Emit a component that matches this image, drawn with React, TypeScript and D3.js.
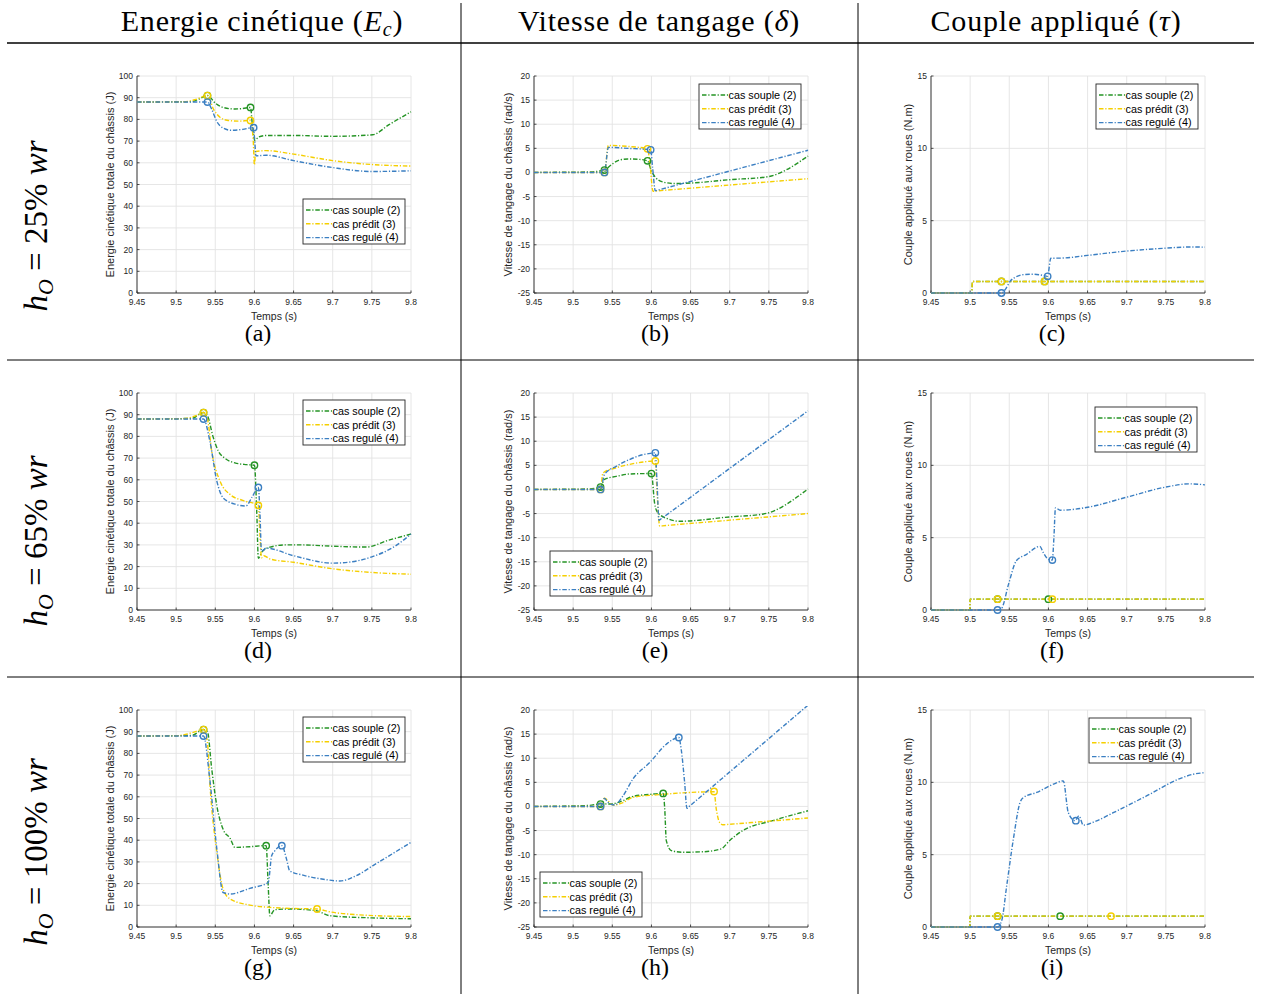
import React from 'react';
import * as d3 from 'd3';

type P = [number, number];

// ---------- data ----------
const X_TICKS = [9.45, 9.5, 9.55, 9.6, 9.65, 9.7, 9.75, 9.8];
const EC_TICKS = [0, 10, 20, 30, 40, 50, 60, 70, 80, 90, 100];
const DELTA_TICKS = [-25, -20, -15, -10, -5, 0, 5, 10, 15, 20];
const TAU_TICKS = [0, 5, 10, 15];

const SERIES_NAMES = ['cas souple (2)', 'cas prédit (3)', 'cas regulé (4)'];
const SERIES_COLORS = ['#259425', '#f5cf00', '#3b7fc2'];

const ROW_PERCENTS = ['25%', '65%', '100%'];
const CAPTIONS = ['(a)', '(b)', '(c)', '(d)', '(e)', '(f)', '(g)', '(h)', '(i)'];

const Y_LABELS = [
  'Energie cinétique totale du châssis (J)',
  'Vitesse de tangage du châssis (rad/s)',
  'Couple appliqué aux roues (N.m)',
];

// (a) Ec, hO = 25%
const ecA_souple: P[] = [[9.45, 88], [9.52, 88.2], [9.53, 89.5], [9.54, 91], [9.55, 87.5], [9.56, 85.5], [9.575, 84.8], [9.585, 85], [9.595, 85.5], [9.5975, 77], [9.6005, 70.3], [9.605, 71.8], [9.615, 72.6], [9.65, 72.6], [9.7, 72.2], [9.751, 72.9], [9.772, 77.6], [9.8, 83.5]];
const ecA_predit: P[] = [[9.45, 88], [9.51, 88.1], [9.525, 89.2], [9.54, 91], [9.548, 84.5], [9.556, 81], [9.565, 79.6], [9.58, 79.2], [9.595, 79.5], [9.5985, 70], [9.6, 59], [9.6015, 65.2], [9.615, 65.6], [9.65, 64], [9.7, 61], [9.75, 59.2], [9.8, 58.5]];
const ecA_regule: P[] = [[9.45, 88], [9.54, 88], [9.545, 85], [9.552, 79], [9.56, 76], [9.57, 75], [9.585, 75.4], [9.598, 76.2], [9.6, 72], [9.602, 63.2], [9.615, 63.5], [9.65, 61], [9.7, 57.8], [9.75, 56], [9.8, 56.3]];

// (b) delta, hO = 25%
const dB_souple: P[] = [[9.45, 0], [9.52, 0.1], [9.54, 0.5], [9.548, 1.5], [9.558, 2.5], [9.57, 2.8], [9.585, 2.7], [9.595, 2.4], [9.6, 0.3], [9.605, -1], [9.615, -2], [9.63, -2.3], [9.65, -2.2], [9.7, -1.5], [9.748, -0.9], [9.8, 3.4]];
const dB_predit: P[] = [[9.45, 0], [9.54, 0], [9.545, 5.6], [9.57, 5.4], [9.595, 4.9], [9.598, 2], [9.602, -3.9], [9.605, -3.86], [9.7, -2.61], [9.8, -1.3]];
const dB_regule: P[] = [[9.45, 0], [9.54, 0], [9.545, 5.2], [9.57, 5.0], [9.599, 4.7], [9.6015, 1], [9.605, -3.8], [9.608, -3.67], [9.7, 0.29], [9.8, 4.6]];

// (c) tau, hO = 25%
const tC_souple: P[] = [[9.45, 0], [9.502, 0], [9.503, 0.8], [9.8, 0.8]];
const tC_predit: P[] = [[9.45, 0], [9.502, 0], [9.503, 0.8], [9.8, 0.8]];
const tC_regule: P[] = [[9.45, 0], [9.54, 0], [9.545, 0.25], [9.551, 0.8], [9.558, 1.1], [9.57, 1.28], [9.58, 1.3], [9.59, 1.25], [9.599, 1.15], [9.6, 1.4], [9.603, 2.4], [9.62, 2.42], [9.65, 2.6], [9.7, 2.9], [9.75, 3.1], [9.78, 3.18], [9.8, 3.17]];

// (d) Ec, hO = 65%
const ecD_souple: P[] = [[9.45, 88], [9.52, 88.3], [9.535, 91], [9.54, 89.5], [9.547, 80], [9.554, 73.2], [9.562, 70], [9.575, 67.8], [9.59, 67], [9.6, 66.7], [9.603, 45], [9.605, 23.8], [9.61, 27], [9.62, 29], [9.64, 30], [9.66, 30], [9.7, 29.4], [9.743, 29], [9.77, 32], [9.8, 35]];
const ecD_predit: P[] = [[9.45, 88], [9.51, 88.2], [9.525, 89.5], [9.535, 91], [9.54, 88], [9.5455, 73], [9.556, 59.4], [9.569, 53.2], [9.585, 50.5], [9.605, 48.2], [9.607, 35], [9.609, 24.1], [9.612, 25], [9.62, 23.5], [9.65, 22], [9.7, 19], [9.75, 17.3], [9.8, 16.5]];
const ecD_regule: P[] = [[9.45, 88], [9.535, 88], [9.543, 78], [9.552, 59.4], [9.56, 51.7], [9.577, 48.6], [9.589, 47.9], [9.597, 52], [9.605, 56.5], [9.607, 45], [9.609, 27.1], [9.615, 28.5], [9.65, 25], [9.7, 21.6], [9.72, 22], [9.75, 24.5], [9.78, 29.5], [9.8, 35]];

// (e) delta, hO = 65%
const dE_souple: P[] = [[9.45, 0], [9.52, 0.1], [9.535, 0.5], [9.54, 2.1], [9.555, 2.7], [9.572, 3.2], [9.6, 3.3], [9.604, -2.8], [9.608, -4.8], [9.623, -6.2], [9.636, -6.6], [9.7, -5.7], [9.743, -5.1], [9.8, 0.1]];
const dE_predit: P[] = [[9.45, 0], [9.535, 0], [9.538, 3.4], [9.555, 4.5], [9.572, 5.2], [9.59, 5.7], [9.605, 5.9], [9.607, 0], [9.6106, -7.6], [9.614, -7.55], [9.7, -6.37], [9.8, -5]];
const dE_regule: P[] = [[9.45, 0], [9.535, 0], [9.54, 3.1], [9.555, 4.8], [9.572, 6.2], [9.589, 7.2], [9.6, 7.5], [9.605, 7.6], [9.607, 2], [9.6097, -6.4], [9.612, -6.13], [9.7, 4.37], [9.8, 16.3]];

// (f) tau, hO = 65%
const tF_souple: P[] = [[9.45, 0], [9.4995, 0], [9.5, 0.75], [9.8, 0.75]];
const tF_predit: P[] = [[9.45, 0], [9.4995, 0], [9.5, 0.75], [9.8, 0.75]];
const tF_regule: P[] = [[9.45, 0], [9.535, 0], [9.54, 0.1], [9.549, 1.77], [9.559, 3.4], [9.572, 3.85], [9.589, 4.4], [9.5935, 3.96], [9.6, 3.5], [9.605, 3.45], [9.607, 5], [9.609, 7.06], [9.615, 6.9], [9.65, 7.1], [9.7, 7.8], [9.75, 8.5], [9.78, 8.72], [9.8, 8.65]];

// (g) Ec, hO = 100%
const ecG_souple: P[] = [[9.45, 88], [9.52, 88.3], [9.535, 91], [9.54, 90], [9.5455, 72.7], [9.552, 55.8], [9.56, 45], [9.569, 40.8], [9.575, 36.7], [9.594, 37], [9.615, 37.5], [9.6176, 19], [9.6197, 5.2], [9.626, 8], [9.645, 8.3], [9.679, 7.5], [9.696, 5.2], [9.75, 4.2], [9.8, 3.8]];
const ecG_predit: P[] = [[9.45, 88], [9.5, 88.1], [9.52, 89.5], [9.535, 91], [9.54, 85], [9.543, 66.6], [9.552, 34.4], [9.56, 17.5], [9.569, 12.9], [9.594, 10.1], [9.62, 9.05], [9.645, 8.6], [9.68, 8.3], [9.696, 7], [9.73, 5.7], [9.8, 4.8]];
const ecG_regule: P[] = [[9.45, 88], [9.535, 88], [9.543, 68], [9.552, 35.9], [9.56, 15.9], [9.569, 15.2], [9.594, 17.8], [9.6176, 20.5], [9.622, 32.8], [9.626, 35.1], [9.635, 37.5], [9.641, 31.3], [9.645, 25.9], [9.662, 23.9], [9.688, 22], [9.709, 21.2], [9.73, 23.6], [9.751, 28.2], [9.772, 32.8], [9.8, 39]];

// (h) delta, hO = 100%
const dH_souple: P[] = [[9.45, 0], [9.52, 0.2], [9.535, 0.55], [9.5467, 0.5], [9.5637, 1.2], [9.5764, 2.1], [9.5978, 2.5], [9.615, 2.7], [9.617, -0.5], [9.619, -7.1], [9.6254, -9.15], [9.6403, -9.5], [9.666, -9.4], [9.689, -8.8], [9.6997, -7.1], [9.7167, -5], [9.755, -2.95], [9.8, -0.9]];
const dH_predit: P[] = [[9.45, 0], [9.535, 0], [9.54, 1.7], [9.551, 0.3], [9.5637, 0.8], [9.5764, 1.9], [9.606, 2.4], [9.6487, 2.9], [9.68, 3.05], [9.6828, -0.5], [9.687, -3.3], [9.6913, -3.8], [9.694, -3.77], [9.75, -3.05], [9.8, -2.4]];
const dH_regule: P[] = [[9.45, 0], [9.535, 0], [9.54, 1.67], [9.5445, 0.84], [9.553, 0.3], [9.5637, 2.2], [9.5764, 5.7], [9.5978, 9.1], [9.619, 12.9], [9.635, 14.3], [9.638, 11.9], [9.6424, 5], [9.6454, -0.4], [9.648, -0.04], [9.72, 9.92], [9.8, 21]];

// (i) tau, hO = 100%
const tI_souple: P[] = [[9.45, 0], [9.4995, 0], [9.5, 0.75], [9.8, 0.75]];
const tI_predit: P[] = [[9.45, 0], [9.4995, 0], [9.5, 0.75], [9.8, 0.75]];
const tI_regule: P[] = [[9.45, 0], [9.535, 0], [9.5403, 0.44], [9.5467, 2.85], [9.5552, 6.07], [9.5637, 8.6], [9.568, 8.95], [9.585, 9.3], [9.6062, 9.87], [9.619, 10.1], [9.6254, 7.9], [9.634, 7.35], [9.639, 7.68], [9.6445, 7.04], [9.6615, 7.34], [9.6828, 7.9], [9.7253, 9.06], [9.768, 10.26], [9.785, 10.56], [9.8, 10.67]];

// markers (circles)
const MARK_A: P[][] = [[[9.54, 91], [9.595, 85.5]], [[9.54, 91], [9.595, 79.5]], [[9.54, 88], [9.599, 76.2]]];
const MARK_B: P[][] = [[[9.54, 0.5], [9.595, 2.4]], [[9.54, 0], [9.595, 4.9]], [[9.54, 0], [9.599, 4.7]]];
const MARK_C: P[][] = [[[9.54, 0.8], [9.595, 0.8]], [[9.54, 0.8], [9.595, 0.8]], [[9.54, 0], [9.599, 1.15]]];
const MARK_D: P[][] = [[[9.535, 91], [9.6, 66.7]], [[9.535, 91], [9.605, 48.2]], [[9.535, 88], [9.605, 56.5]]];
const MARK_E: P[][] = [[[9.535, 0.5], [9.6, 3.3]], [[9.535, 0], [9.605, 5.9]], [[9.535, 0], [9.605, 7.6]]];
const MARK_F: P[][] = [[[9.535, 0.75], [9.6, 0.75]], [[9.535, 0.75], [9.605, 0.75]], [[9.535, 0], [9.605, 3.45]]];
const MARK_G: P[][] = [[[9.535, 91], [9.615, 37.5]], [[9.535, 91], [9.68, 8.3]], [[9.535, 88], [9.635, 37.5]]];
const MARK_H: P[][] = [[[9.535, 0.5], [9.615, 2.7]], [[9.535, 0], [9.68, 3.1]], [[9.535, 0], [9.635, 14.3]]];
const MARK_I: P[][] = [[[9.535, 0.75], [9.615, 0.75]], [[9.535, 0.75], [9.68, 0.75]], [[9.535, 0], [9.635, 7.35]]];

// ---------- layout ----------
const W = 1263;
const H = 994;
const COL_LEFT = [137, 534, 931];
const ROW_TOP = [76, 393, 710];
const ROW_LABEL_CENTER = [226, 541, 852];
const PW = 274;
const PH = 217;
const YLABEL_DX = [26, 25, 22];
const LEGEND_POS: [number, number][] = [
  [166, 123], [165, 8], [165, 8],
  [166, 7], [16, 158], [164, 14],
  [166, 7], [6, 162], [158, 8],
];

const COLUMNS = [
  { domain: [0, 100], ticks: EC_TICKS },
  { domain: [-25, 20], ticks: DELTA_TICKS },
  { domain: [0, 15], ticks: TAU_TICKS },
];

const PANELS = [
  { series: [ecA_souple, ecA_predit, ecA_regule], marks: MARK_A },
  { series: [dB_souple, dB_predit, dB_regule], marks: MARK_B },
  { series: [tC_souple, tC_predit, tC_regule], marks: MARK_C },
  { series: [ecD_souple, ecD_predit, ecD_regule], marks: MARK_D },
  { series: [dE_souple, dE_predit, dE_regule], marks: MARK_E },
  { series: [tF_souple, tF_predit, tF_regule], marks: MARK_F },
  { series: [ecG_souple, ecG_predit, ecG_regule], marks: MARK_G },
  { series: [dH_souple, dH_predit, dH_regule], marks: MARK_H },
  { series: [tI_souple, tI_predit, tI_regule], marks: MARK_I },
];

const SANS = "'Liberation Sans', Arial, Helvetica, sans-serif";
const SERIF = "'Liberation Serif', 'Times New Roman', serif";
const AX = '#262626';
const GRID = '#e3e3e3';
const DASH = '4.5,1.8,1.2,1.8';

function Panel({ idx }: { idx: number }) {
  const r = Math.floor(idx / 3);
  const c = idx % 3;
  const left = COL_LEFT[c];
  const top = ROW_TOP[r];
  const col = COLUMNS[c];
  const x = d3.scaleLinear().domain([9.45, 9.8]).range([left, left + PW]);
  const y = d3.scaleLinear().domain(col.domain).range([top + PH, top]);
  const line = d3
    .line<P>()
    .x((d) => x(d[0]))
    .y((d) => y(d[1]))
    .curve(d3.curveMonotoneX);
  const panel = PANELS[idx];
  const clipId = `clip${idx}`;
  const [ldx, ldy] = LEGEND_POS[idx];
  const lx = left + ldx;
  const ly = top + ldy;
  const fmtX = (v: number) => String(+v.toFixed(2));
  return (
    <g>
      <defs>
        <clipPath id={clipId}>
          <rect x={left - 4} y={top - 4} width={PW + 8} height={PH + 8} />
        </clipPath>
      </defs>
      {X_TICKS.map((t) => (
        <line key={'gx' + t} x1={x(t)} x2={x(t)} y1={top} y2={top + PH} stroke={GRID} strokeWidth={0.9} />
      ))}
      {col.ticks.map((t) => (
        <line key={'gy' + t} x1={left} x2={left + PW} y1={y(t)} y2={y(t)} stroke={GRID} strokeWidth={0.9} />
      ))}
      <line x1={left} x2={left + PW} y1={top + PH} y2={top + PH} stroke={AX} strokeWidth={0.9} />
      <line x1={left} x2={left} y1={top} y2={top + PH} stroke={AX} strokeWidth={0.9} />
      {X_TICKS.map((t) => (
        <g key={'tx' + t}>
          <line x1={x(t)} x2={x(t)} y1={top + PH} y2={top + PH - 2.5} stroke={AX} strokeWidth={0.8} />
          <text x={x(t)} y={top + PH + 12} fontSize={8.5} fill={AX} textAnchor="middle" fontFamily={SANS}>
            {fmtX(t)}
          </text>
        </g>
      ))}
      {col.ticks.map((t) => (
        <g key={'ty' + t}>
          <line x1={left} x2={left + 2.5} y1={y(t)} y2={y(t)} stroke={AX} strokeWidth={0.8} />
          <text x={left - 4} y={y(t) + 3} fontSize={8.5} fill={AX} textAnchor="end" fontFamily={SANS}>
            {t}
          </text>
        </g>
      ))}
      <text x={(left + left + PW) / 2} y={top + PH + 27} fontSize={10.5} fill={AX} textAnchor="middle" fontFamily={SANS}>
        Temps (s)
      </text>
      <text
        transform={`translate(${left - YLABEL_DX[c]},${top + PH / 2}) rotate(-90)`}
        fontSize={11}
        fill={AX}
        textAnchor="middle"
        dominantBaseline="middle"
        fontFamily={SANS}
      >
        {Y_LABELS[c]}
      </text>
      <g clipPath={`url(#${clipId})`}>
        {panel.series.map((s, i) => (
          <path key={'s' + i} d={line(s) || ''} fill="none" stroke={SERIES_COLORS[i]} strokeWidth={1.4} strokeDasharray={DASH} />
        ))}
        {panel.marks.map((ms, i) =>
          ms.map((m, j) => (
            <circle key={`m${i}-${j}`} cx={x(m[0])} cy={y(m[1])} r={3.2} fill="none" stroke={SERIES_COLORS[i]} strokeWidth={1.4} />
          ))
        )}
      </g>
      <rect x={lx} y={ly} width={102} height={45} fill="#fff" stroke={AX} strokeWidth={0.9} />
      {SERIES_NAMES.map((n, i) => (
        <g key={'l' + i}>
          <line x1={lx + 3} x2={lx + 29} y1={ly + 11 + i * 13.8} y2={ly + 11 + i * 13.8} stroke={SERIES_COLORS[i]} strokeWidth={1.4} strokeDasharray={DASH} />
          <text x={lx + 29.5} y={ly + 14.8 + i * 13.8} fontSize={10.8} fill="#000" fontFamily={SANS}>
            {n}
          </text>
        </g>
      ))}
      <text x={left + PW / 2 - 16} y={top + PH + 48} fontSize={24} fontFamily={SERIF} textAnchor="middle" fill="#000">
        {CAPTIONS[idx]}
      </text>
    </g>
  );
}

export default function App() {
  const colCenters = [262, 659, 1056];
  const titleStyle = { letterSpacing: '0.8px' };
  return (
    <svg width={W} height={H} viewBox={`0 0 ${W} ${H}`} style={{ position: 'absolute', left: 0, top: 0, background: '#fff' }}>
      <rect x={0} y={0} width={W} height={H} fill="#fff" />
      <line x1={7} x2={1254} y1={43} y2={43} stroke="#000" strokeWidth={1.3} />
      <line x1={7} x2={1254} y1={360} y2={360} stroke="#000" strokeWidth={1} />
      <line x1={7} x2={1254} y1={677} y2={677} stroke="#000" strokeWidth={1} />
      <line x1={461} x2={461} y1={3} y2={994} stroke="#000" strokeWidth={1} />
      <line x1={858} x2={858} y1={3} y2={994} stroke="#000" strokeWidth={1} />
      <text x={colCenters[0]} y={31} fontSize={30} fontFamily={SERIF} textAnchor="middle" style={titleStyle}>
        Energie cinétique (<tspan fontStyle="italic">E</tspan>
        <tspan fontStyle="italic" fontSize={20} dy={5}>c</tspan>
        <tspan dy={-5}>)</tspan>
      </text>
      <text x={colCenters[1]} y={31} fontSize={30} fontFamily={SERIF} textAnchor="middle" style={titleStyle}>
        Vitesse de tangage (<tspan fontStyle="italic">δ</tspan>)
      </text>
      <text x={colCenters[2]} y={31} fontSize={30} fontFamily={SERIF} textAnchor="middle" style={titleStyle}>
        Couple appliqué (<tspan fontStyle="italic">τ</tspan>)
      </text>
      {ROW_PERCENTS.map((p, i) => (
        <text key={p} transform={`translate(47,${ROW_LABEL_CENTER[i]}) rotate(-90)`} fontSize={33} fontFamily={SERIF} textAnchor="middle">
          <tspan fontStyle="italic">h</tspan>
          <tspan fontStyle="italic" fontSize={22} dy={6}>O</tspan>
          <tspan dy={-6}>{' = ' + p + ' '}</tspan>
          <tspan fontStyle="italic">wr</tspan>
        </text>
      ))}
      {PANELS.map((_, i) => (
        <Panel key={i} idx={i} />
      ))}
    </svg>
  );
}
